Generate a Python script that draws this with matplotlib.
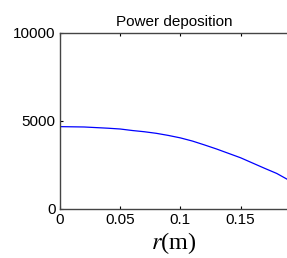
import numpy as np
import matplotlib
matplotlib.use('Agg')
import matplotlib.pyplot as plt

# values
r = [0.0, 0.02, 0.04, 0.05, 0.06, 0.07, 0.08, 0.09, 0.10, 0.11,
     0.12, 0.13, 0.14, 0.15, 0.16, 0.17, 0.18, 0.19]
power = [4680, 4660, 4590, 4545, 4460, 4390, 4300, 4180, 4040, 3860,
         3640, 3410, 3160, 2910, 2610, 2310, 2020, 1640]

xticks = [0, 0.05, 0.1, 0.15]
xtick_labels = ['0', '0.05', '0.1', '0.15']
yticks = [0, 5000, 10000]

plt.rcParams['font.family'] = 'Liberation Sans'
plt.rcParams['mathtext.fontset'] = 'stix'

fig = plt.figure(figsize=(2.87, 2.58), dpi=100)
ax = fig.add_axes([60 / 287, 49 / 258, 1 - 60 / 287 + 0.002, 176 / 258])

ax.plot(r, power, color='blue', linewidth=0.9)
ax.set_xlim(0, 0.189)
ax.set_ylim(0, 10000)

ax.set_xticks(xticks)
ax.set_xticklabels(xtick_labels)
ax.set_yticks(yticks)
ax.tick_params(direction='in', length=2, width=0.8, labelsize=11,
               top=True, right=False, pad=3)
for s in ['left', 'bottom', 'top']:
    ax.spines[s].set_color('#444444')
    ax.spines[s].set_linewidth(1)
ax.spines['right'].set_visible(False)

ax.set_title('Power deposition', fontsize=11, pad=5)
ax.set_xlabel('$r$(m)', fontsize=17.5, fontfamily='Liberation Serif', labelpad=2)

plt.savefig('out.png', dpi=100)
